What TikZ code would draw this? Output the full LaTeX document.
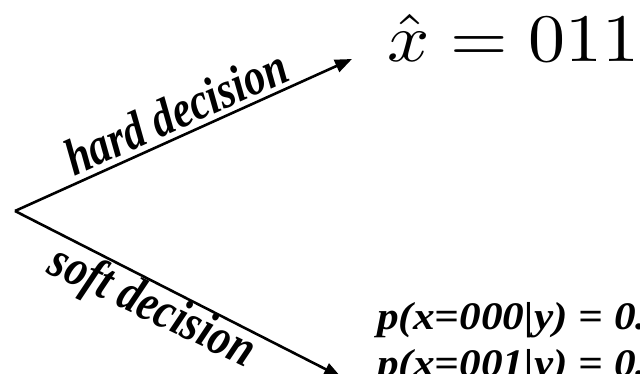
\documentclass[tikz,border=0pt]{standalone}
\usepackage{fontspec}
\usepackage{graphicx}
\usetikzlibrary{arrows.meta}
\newfontfamily\tnrbi{LiberationSerif-BoldItalic.ttf}
\begin{document}
\begin{tikzpicture}[x=1pt,y=-1pt,
  conn/.style={line width=2.6pt,-{Triangle[length=17pt,width=13pt]}},
  lbl/.style={inner sep=0pt,font=\tnrbi\fontsize{52}{56}\selectfont},
  prob/.style={inner sep=0pt,anchor=base west,font=\tnrbi\fontsize{39}{47}\selectfont}]
\useasboundingbox (0,0) rectangle (640,374);
\clip (0,0) rectangle (640,374);
\coordinate (v) at (15,211);
\coordinate (hend) at (352,59);
\coordinate (send) at (341,377);
\draw[conn] (v) -- (hend);
\draw[conn] (v) -- (send);
\node[lbl,anchor=base,rotate=24] (hard) at (183,128) {\scalebox{0.82}[1]{hard decision}};
\node[lbl,anchor=base,rotate=-25.5] (soft) at (146,320) {\scalebox{0.83}[1]{soft decision}};
\node[inner sep=0pt,anchor=base west] (xhat) at (387,62)
  {\scalebox{7.4}[6.8]{$\hat{x}=011$}};
\node[prob] (p1) at (377,329) {\scalebox{1.11}[1]{p(x=000|y) = 0.}};
\node[prob] (p2) at (377,376) {\scalebox{1.11}[1]{p(x=001|y) = 0.}};
\end{tikzpicture}
\end{document}
